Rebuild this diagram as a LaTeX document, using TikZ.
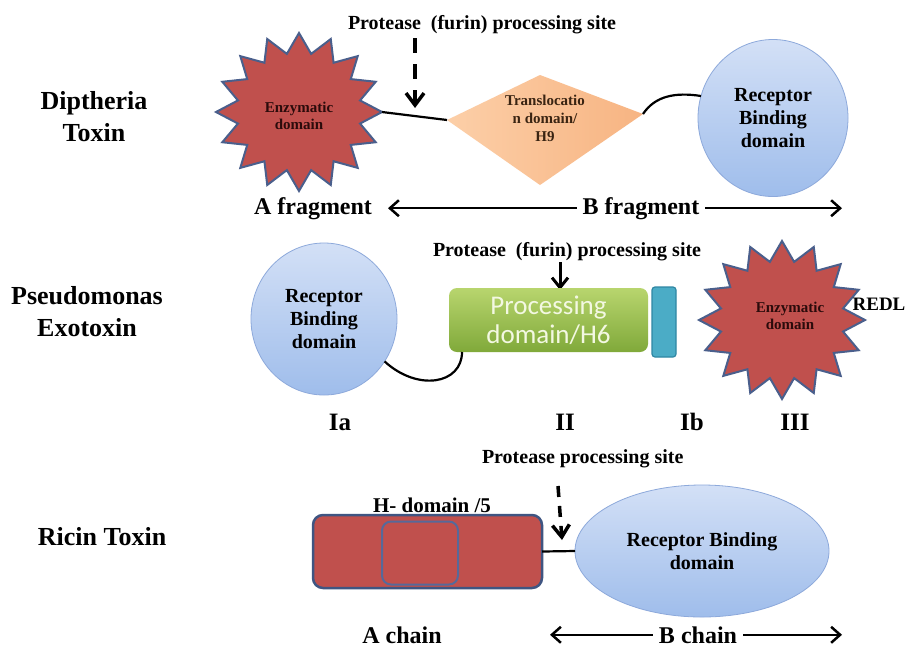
\documentclass[tikz,border=0pt]{standalone}
\usepackage{fontspec}
\setmainfont{Liberation Serif}
\newfontfamily\calib{Carlito}
\usetikzlibrary{arrows.meta,shapes.geometric}
\definecolor{enzred}{HTML}{C0504D}
\definecolor{enzline}{HTML}{4A5F8C}
\definecolor{enztxt}{HTML}{2B0B0B}
\definecolor{trtxt}{HTML}{3A2412}
\definecolor{pchA}{HTML}{FCCFA8}
\definecolor{pchB}{HTML}{F7B482}
\definecolor{rbdtop}{HTML}{D3E0F6}
\definecolor{rbdbot}{HTML}{9FBDEB}
\definecolor{rbdline}{HTML}{8DA9DB}
\definecolor{grtop}{HTML}{B8D56E}
\definecolor{grbot}{HTML}{80A93A}
\definecolor{proctxt}{HTML}{F3F8E2}
\definecolor{cyanfill}{HTML}{4BACC6}
\definecolor{cyanline}{HTML}{2F87A3}
\definecolor{ricline}{HTML}{3F5582}
\definecolor{innline}{HTML}{56699A}
\newcommand\enzymestar[2]{%
  \draw[enzstar] plot[samples at={0,...,31}, variable=\i]
    ({#1+83*(0.875+0.125*cos(180*\i))*cos(11.25*\i)},
     {#2+79*(0.875+0.125*cos(180*\i))*sin(11.25*\i)}) -- cycle;}
\begin{document}
\begin{tikzpicture}[x=1pt,y=-1pt,
  every node/.style={inner sep=0pt, outer sep=0pt},
  title/.style={font=\bfseries\fontsize{26}{32}\selectfont, align=center},
  site/.style={font=\bfseries\fontsize{20}{23}\selectfont, anchor=base west},
  frag/.style={font=\bfseries\fontsize{24}{28}\selectfont, anchor=base},
  rom/.style={font=\bfseries\fontsize{25}{28}\selectfont, anchor=base},
  enztext/.style={font=\bfseries\fontsize{15}{17}\selectfont, align=center, text=enztxt},
  trtext/.style={font=\bfseries\fontsize{15}{18}\selectfont, align=center, text=trtxt},
  rectext/.style={font=\bfseries\fontsize{20}{23}\selectfont, align=center, text=black},
  rbd/.style={ellipse, draw=rbdline, line width=0.8pt, top color=rbdtop, bottom color=rbdbot},
  enzstar/.style={draw=enzline, line width=2pt, fill=enzred, line join=miter},
  link/.style={line width=2.2pt, black},
  dasharrow/.style={line width=3.5pt, dash pattern=on 15pt off 11pt, -{Straight Barb[length=12pt,width=18pt]}},
  solidarrow/.style={line width=3pt, -{Straight Barb[length=10pt,width=16pt]}},
  spanarrow/.style={line width=2.5pt, -{Straight Barb[length=9pt,width=16pt]}}
]
\fill[white] (0,0) rectangle (909,649);
\useasboundingbox (0,0) rectangle (909,649);

% ---------- Diphtheria toxin ----------
\node[title] (dt) at (94,117) {Diptheria\\Toxin};
\node[site] (site1) at (348,29) {Protease\ \ (furin) processing site};
\coordinate (a1s) at (415,38);
\coordinate (a1t) at (415,108);
\draw[dasharrow] (a1s) -- (a1t);

\enzymestar{299}{112}
\node[enztext] (enz1) at (299,116) {Enzymatic\\domain};
\coordinate (e1r) at (382,112);

\coordinate (dL) at (447,120);
\coordinate (dT) at (540,75);
\coordinate (dR) at (643,114);
\coordinate (dB) at (540,185);
\shade[left color=pchA, right color=pchB] (dL) -- (dT) -- (dR) -- (dB) -- cycle;
\node[trtext] (trans) at (545,118) {Translocatio\\n domain/\\H9};
\draw[link] (e1r) -- (dL);

\node[rbd, rectext, minimum width=150pt, minimum height=157pt] (rbd1) at (773,118) {Receptor\\Binding\\domain};
\draw[link] (dR) .. controls (655,96) and (675,92) .. (rbd1.163);

\node[frag] (afr) at (313,214) {A fragment};
\node[frag] (bfr) at (641,214) {B fragment};
\coordinate (aftip) at (388,0);
\coordinate (bftip) at (842,0);
\draw[spanarrow] ([xshift=-6pt]bfr.west) -- (bfr.west -| aftip);
\draw[spanarrow] ([xshift=6pt]bfr.east) -- (bfr.east -| bftip);

% ---------- Pseudomonas exotoxin ----------
\node[title] (pe) at (87,312) {Pseudomonas\\Exotoxin};
\node[site] (site2) at (433,256) {Protease\ \ (furin) processing site};
\coordinate (a2s) at (560,262);
\coordinate (a2t) at (560,290);
\draw[solidarrow] (a2s) -- (a2t);

\node[rbd, rectext, minimum width=146pt, minimum height=152pt] (rbd2) at (324,319) {Receptor\\Binding\\domain};
\node[rounded corners=8pt, top color=grtop, bottom color=grbot, minimum width=199pt, minimum height=64pt,
      font=\calib\fontsize{27}{29}\selectfont, text=proctxt, align=center] (proc) at (548.5,320) {Processing\\domain/H6};
\coordinate (pj) at ([xshift=13pt]proc.south west);
\draw[link] (rbd2.-35) .. controls (418,392) and (462,384) .. (pj);
\node[draw=cyanline, fill=cyanfill, line width=1.2pt, rounded corners=3pt, minimum width=24pt, minimum height=70pt] (ib) at (664,322) {};

\enzymestar{782}{320}
\node[enztext] (enz2) at (790,316) {Enzymatic\\domain};
\node[font=\bfseries\fontsize{19}{22}\selectfont, anchor=base] (redl) at (879,310) {REDL};

\node[rom] (la) at (340,430) {Ia};
\node[rom] (lb) at (565,430) {II};
\node[rom] (lc) at (692,430) {Ib};
\node[rom] (ld) at (795,430) {III};

% ---------- Ricin toxin ----------
\node[font=\bfseries\fontsize{26}{32}\selectfont, anchor=base] (rt) at (102,545) {Ricin Toxin};
\node[site] (site3) at (482,463) {Protease processing site};
\coordinate (a3s) at (558,486);
\coordinate (a3t) at (562,540);
\draw[line width=3.5pt, dash pattern=on 11pt off 9pt, -{Straight Barb[length=12pt,width=17pt]}] (a3s) -- (a3t);

\node[font=\bfseries\fontsize{21}{24}\selectfont, anchor=base] (hlab) at (432,512) {H- domain /5};
\node[draw=ricline, fill=enzred, line width=2.5pt, rounded corners=10pt, minimum width=229pt, minimum height=73pt] (hdom) at (427.5,551.5) {};
\node[draw=innline, fill=enzred, line width=2pt, rounded corners=9pt, minimum width=76pt, minimum height=63pt] (h5) at (420,553) {};

\node[rbd, rectext, minimum width=254pt, minimum height=132pt] (rbd3) at (702,551) {Receptor Binding\\domain};
\draw[link] (hdom.east) -- (rbd3.west);

\node[frag] (ach) at (402,643) {A chain};
\node[frag] (bch) at (698,643) {B chain};
\coordinate (actip) at (550,0);
\coordinate (bctip) at (842,0);
\draw[spanarrow] ([xshift=-6pt]bch.west) -- (bch.west -| actip);
\draw[spanarrow] ([xshift=6pt]bch.east) -- (bch.east -| bctip);
\end{tikzpicture}
\end{document}
